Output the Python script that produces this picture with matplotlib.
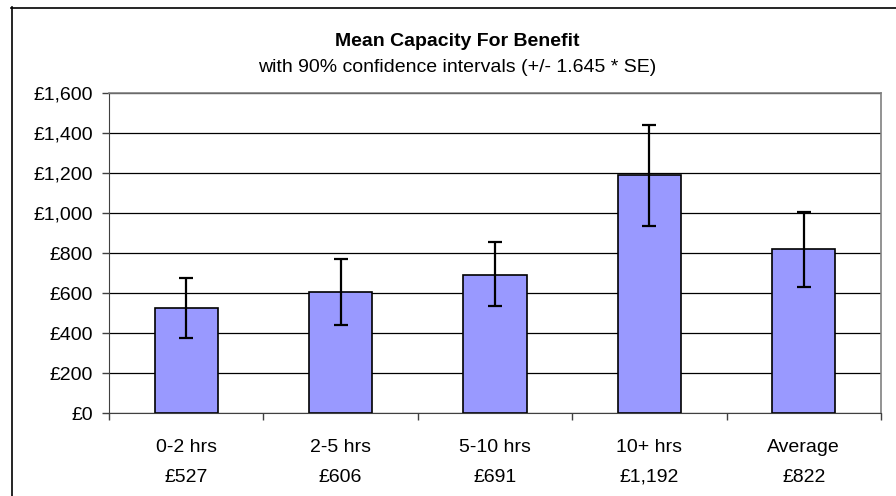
import numpy as np
import matplotlib
matplotlib.use("Agg")
import matplotlib.pyplot as plt
from matplotlib.lines import Line2D
from matplotlib.ticker import FuncFormatter

plt.rcParams['font.family'] = ['Liberation Sans', 'DejaVu Sans']

# data
groups = ['0-2 hrs', '2-5 hrs', '5-10 hrs', '10+ hrs', 'Average']
means = [527, 606, 691, 1192, 822]
ci_low = [374, 439, 533, 934, 630]
ci_high = [673, 768, 857, 1442, 1007]

W, H = 896, 496
fig = plt.figure(figsize=(W / 100, H / 100), dpi=100)
# plot area in pixel coords: x 109-881, y 93-413
ax = fig.add_axes([109 / W, 1 - 413 / H, (881 - 109) / W, (413 - 93) / H])

x = np.arange(len(groups))
yerr = [np.array(means) - np.array(ci_low), np.array(ci_high) - np.array(means)]

ax.set_axisbelow(True)
ax.yaxis.grid(True, color='black', linewidth=0.9)
ax.bar(x, means, width=0.41, color='#9999FF', edgecolor='black', linewidth=1.2, zorder=2)
ax.errorbar(x, means, yerr=yerr, fmt='none', ecolor='black', elinewidth=1.6,
            capsize=4.8, capthick=1.6, zorder=3)

ax.set_xlim(-0.5, len(groups) - 0.5)
ax.set_ylim(0, 1600)
ax.set_yticks(range(0, 1601, 200))
ax.yaxis.set_major_formatter(FuncFormatter(lambda v, p: '£{:,.0f}'.format(v)))

# category boundaries as tick marks, labels below as text
ax.set_xticks(np.arange(-0.5, len(groups), 1.0))
ax.set_xticklabels([])
ax.tick_params(axis='x', direction='out', length=5, width=1, color='#404040')
ax.tick_params(axis='y', direction='out', length=5, width=1, color='#404040',
               labelsize=14, pad=6.5)

for i, (g, m) in enumerate(zip(groups, means)):
    ax.text(i, -0.107, g, transform=ax.get_xaxis_transform(), ha='center',
            va='center', fontsize=14)
    ax.text(i, -0.2, '£{:,}'.format(m), transform=ax.get_xaxis_transform(),
            ha='center', va='center', fontsize=14)

for side in ['top', 'right']:
    ax.spines[side].set_color('#808080')
    ax.spines[side].set_linewidth(1.2)
ax.spines['left'].set_color('#404040')
ax.spines['bottom'].set_color('#404040')

fig.text(457 / W, 1 - 42 / H, 'Mean Capacity For Benefit', ha='center',
         va='center', fontsize=14, fontweight='bold')
fig.text(457 / W, 1 - 68 / H, 'with 90% confidence intervals (+/- 1.645 * SE)',
         ha='center', va='center', fontsize=14)

# chart area border (only top and left visible)
fig.add_artist(Line2D([11 / W, 1], [1 - 7.5 / H, 1 - 7.5 / H], color='black', linewidth=1.2))
fig.add_artist(Line2D([11.5 / W, 11.5 / W], [0, 1 - 7 / H], color='black', linewidth=1.2))

fig.savefig('out.png', dpi=100)
